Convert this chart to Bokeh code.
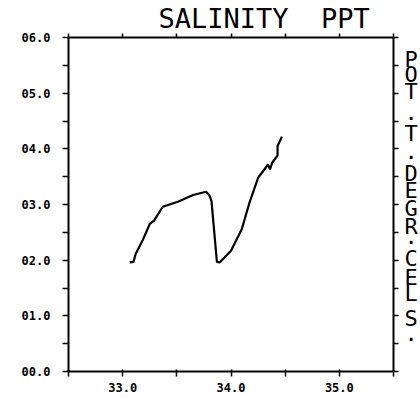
from bokeh.plotting import figure
from bokeh.models import FixedTicker, LinearAxis, Range1d, Title
from bokeh.embed import file_html
from bokeh.resources import INLINE

# Data (salinity in PPT, potential temperature in deg C)
salinity = [33.065, 33.10, 33.12, 33.19, 33.25, 33.29, 33.37, 33.51, 33.65, 33.77,
            33.80, 33.82, 33.87, 33.895, 34.0, 34.10, 34.17, 34.25, 34.32, 34.34,
            34.36, 34.38, 34.43, 34.43, 34.47]
pot_temp = [1.96, 1.97, 2.11, 2.38, 2.65, 2.71, 2.96, 3.05, 3.17, 3.23,
            3.17, 3.06, 1.97, 1.96, 2.17, 2.56, 3.03, 3.48, 3.66, 3.72,
            3.63, 3.75, 3.88, 4.05, 4.22]

x_ticks = [32.5, 33.0, 33.5, 34.0, 34.5, 35.0, 35.5]
x_tick_labels = {33.0: "33.0", 34.0: "34.0", 35.0: "35.0"}
y_ticks = [0.0, 0.5, 1.0, 1.5, 2.0, 2.5, 3.0, 3.5, 4.0, 4.5, 5.0, 5.5, 6.0]
y_tick_labels = {0.0: "00.0", 1.0: "01.0", 2.0: "02.0", 3.0: "03.0",
                 4.0: "04.0", 5.0: "05.0", 6.0: "06.0"}
title_text = "SALINITY\u00a0 PPT"
# stacked right-hand axis title, one character per row
right_chars = ["P", "O", "T", ".", "T", ".", "D", "E", "G", "R", ".", "C", "E", "L", "S", "."]

FONT = "DejaVu Sans Mono"
X0, X1, Y0, Y1 = 32.5, 35.5, 0.0, 6.0
FRAME_TOP, FRAME_BOTTOM = 36, 371

p = figure(width=420, height=398, output_backend="svg", toolbar_location=None,
           x_range=Range1d(X0, X1), y_range=Range1d(Y0, Y1),
           min_border_left=68, min_border_right=27, min_border_top=36, min_border_bottom=27)
p.outline_line_color = None
p.xgrid.visible = False
p.ygrid.visible = False

def style(ax, ticks, overrides, tick_in, tick_out, standoff):
    ax.ticker = FixedTicker(ticks=ticks)
    ax.major_label_overrides = {t: overrides.get(t, "") for t in ticks}
    ax.axis_line_width = 2
    ax.axis_line_color = "black"
    ax.major_tick_line_width = 1.5
    ax.major_tick_line_color = "black"
    ax.major_tick_in = tick_in
    ax.major_tick_out = tick_out
    ax.minor_tick_in = 0
    ax.minor_tick_out = 0
    ax.minor_tick_line_color = None
    ax.major_label_text_font = FONT
    ax.major_label_text_font_style = "bold"
    ax.major_label_text_font_size = "12px"
    ax.major_label_text_color = "black"
    ax.major_label_standoff = standoff

style(p.xaxis[0], x_ticks, x_tick_labels, 2, 5, 6)
style(p.yaxis[0], y_ticks, y_tick_labels, 0, 6, 12)

top = LinearAxis()
style(top, x_ticks, {}, 0, 4, 0)
top.major_label_text_font_size = "0px"
p.add_layout(top, "above")

right = LinearAxis()
style(right, y_ticks, {}, 0, 5, 0)
right.major_label_text_font_size = "0px"
p.add_layout(right, "right")

# second right axis carrying the stacked title characters
centers = [58, 73, 90, 118, 132, 157, 172, 189, 208, 226, 243, 258, 277, 293, 318, 340]
px_per_unit = (FRAME_BOTTOM - FRAME_TOP) / (Y1 - Y0)
char_pos = []
for ch, c in zip(right_chars, centers):
    sy = c - 7 if ch == "." else c
    char_pos.append(round((FRAME_BOTTOM - sy) / px_per_unit, 4))
rlab = LinearAxis()
rlab.ticker = FixedTicker(ticks=char_pos)
rlab.major_label_overrides = {v: ch for v, ch in zip(char_pos, right_chars)}
rlab.axis_line_color = None
rlab.major_tick_line_color = None
rlab.minor_tick_line_color = None
rlab.major_tick_in = 0
rlab.major_tick_out = 0
rlab.major_label_standoff = 6
rlab.major_label_text_font = FONT
rlab.major_label_text_font_size = "22px"
rlab.major_label_text_color = "black"
p.add_layout(rlab, "right")

p.line(salinity, pot_temp, line_color="black", line_width=2.2)

t = Title(text=title_text, align="left", offset=90, standoff=0,
          text_font=FONT, text_font_size="27px", text_font_style="normal",
          text_color="black")
p.add_layout(t, "above")

open("out.html", "w").write(file_html(p, INLINE))
